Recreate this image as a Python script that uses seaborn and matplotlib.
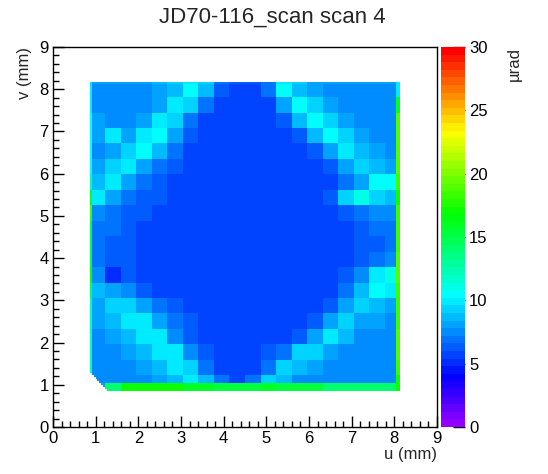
import colorsys
import numpy as np
import pandas as pd
import matplotlib
matplotlib.use("Agg")
import matplotlib.pyplot as plt
from matplotlib.colors import ListedColormap
import seaborn as sns

# tilt map (urad), 20 x 20 coarse cells, top row (v = 8.2 mm) first
tilt = [
    [7.5, 7.5, 7.5, 7.5, 7.8, 8.4, 10.2, 8.4, 6.3, 5.7, 5.7, 6.9, 10.2, 8.4, 7.8, 7.5, 7.5, 7.5, 7.5, 7.5],
    [7.5, 7.5, 7.5, 7.5, 8.1, 9.6, 9.0, 6.9, 5.7, 5.7, 5.7, 5.7, 8.1, 10.5, 9.0, 7.8, 7.5, 7.5, 7.5, 7.5],
    [7.8, 7.5, 7.5, 8.1, 9.9, 9.0, 6.6, 5.7, 5.7, 5.7, 5.7, 5.7, 6.3, 8.4, 10.5, 9.0, 7.8, 7.5, 7.5, 7.5],
    [7.8, 9.6, 7.8, 9.9, 10.5, 7.8, 6.3, 5.7, 5.7, 5.7, 5.7, 5.7, 5.7, 6.3, 8.4, 10.2, 9.0, 7.8, 7.5, 7.5],
    [7.5, 7.8, 9.3, 10.5, 8.7, 6.6, 5.7, 5.7, 5.7, 5.7, 5.7, 5.7, 5.7, 5.7, 6.3, 8.1, 9.6, 8.7, 7.8, 7.5],
    [7.8, 9.3, 9.9, 8.1, 6.6, 6.0, 5.7, 5.7, 5.7, 5.7, 5.7, 5.7, 5.7, 5.7, 5.7, 6.3, 8.1, 9.3, 8.7, 7.8],
    [8.7, 9.9, 7.8, 6.6, 6.3, 5.7, 5.7, 5.7, 5.7, 5.7, 5.7, 5.7, 5.7, 5.7, 5.7, 5.7, 6.6, 8.1, 10.2, 10.2],
    [9.6, 8.1, 6.9, 6.3, 6.0, 5.7, 5.7, 5.7, 5.7, 5.7, 5.7, 5.7, 5.7, 5.7, 5.7, 6.3, 9.0, 10.8, 9.0, 8.7],
    [7.2, 6.9, 6.3, 6.0, 5.7, 5.7, 5.7, 5.7, 5.7, 5.7, 5.7, 5.7, 5.7, 5.7, 5.7, 5.7, 6.3, 6.9, 7.2, 7.5],
    [6.9, 6.6, 6.0, 5.7, 5.7, 5.7, 5.7, 5.7, 5.7, 5.7, 5.7, 5.7, 5.7, 5.7, 5.7, 5.7, 5.7, 6.3, 6.6, 6.9],
    [6.6, 6.3, 6.0, 5.7, 5.7, 5.7, 5.7, 5.7, 5.7, 5.7, 5.7, 5.7, 5.7, 5.7, 5.7, 5.7, 5.7, 6.0, 6.3, 6.9],
    [6.9, 6.3, 6.0, 5.7, 5.7, 5.7, 5.7, 5.7, 5.7, 5.7, 5.7, 5.7, 5.7, 5.7, 5.7, 5.7, 5.7, 6.3, 6.9, 7.5],
    [7.5, 5.1, 6.3, 5.7, 5.7, 5.7, 5.7, 5.7, 5.7, 5.7, 5.7, 5.7, 5.7, 5.7, 5.7, 5.7, 6.3, 7.2, 9.6, 10.8],
    [8.7, 8.1, 7.2, 6.3, 5.7, 5.7, 5.7, 5.7, 5.7, 5.7, 5.7, 5.7, 5.7, 5.7, 5.7, 5.7, 6.6, 8.4, 10.5, 9.6],
    [8.1, 9.3, 9.3, 7.8, 6.6, 6.0, 5.7, 5.7, 5.7, 5.7, 5.7, 5.7, 5.7, 5.7, 5.7, 6.3, 8.1, 9.3, 8.4, 7.8],
    [7.8, 8.4, 9.6, 9.9, 8.1, 6.6, 6.0, 5.7, 5.7, 5.7, 5.7, 5.7, 5.7, 5.7, 6.3, 8.1, 9.3, 8.1, 7.8, 7.5],
    [7.5, 7.8, 8.4, 9.9, 9.9, 7.5, 6.3, 5.7, 5.7, 5.7, 5.7, 5.7, 5.7, 6.3, 8.1, 9.6, 8.4, 7.5, 7.5, 7.5],
    [7.5, 7.5, 7.8, 8.4, 9.9, 9.6, 7.2, 6.0, 5.7, 5.7, 5.7, 6.0, 6.6, 9.0, 9.0, 7.8, 7.5, 7.5, 7.5, 7.5],
    [7.5, 7.5, 7.5, 7.8, 8.4, 9.6, 9.3, 6.9, 5.7, 5.7, 5.7, 6.6, 9.0, 8.7, 7.8, 7.5, 7.5, 7.5, 7.5, 7.5],
    [7.5, 7.5, 7.5, 7.5, 7.8, 8.4, 9.6, 8.7, 6.6, 5.7, 6.6, 9.0, 8.4, 7.5, 7.5, 7.5, 7.5, 7.5, 7.5, 7.5],
]
# bright borders of the scan (urad), one value per coarse cell
left_edge = [10, 10, 10.5, 10.5, 10.5, 11, 12, 16, 18, 15, 15, 15, 17, 14, 12, 12, 12, 12, 12, 12]
right_edge = [10, 16, 19, 19, 19, 19, 18, 17, 18, 18, 18, 19, 19, 18, 18, 18, 19, 19, 18, 17]
top_edge = [8, 8, 8, 8, 8.5, 9, 10, 9, 7, 6, 6, 7, 10, 9, 8, 8, 8, 8, 8, 8]
bottom_strip = [8, 14, 17, 17, 17, 17, 16, 16, 15, 15, 15, 16, 15, 15, 15, 14, 14, 14, 14, 14]

# scanned area (mm)
u0, u1 = 0.86, 8.14
v0, v1 = 0.86, 8.18
rep = 8

coarse = np.array(tilt, dtype=float)
fine = np.kron(coarse, np.ones((rep, rep)))
n_v, n_u = fine.shape
fine[0, :] = np.repeat(top_edge, rep)
fine[-4:, :] = np.repeat(bottom_strip, rep)[None, :]
fine[:, :1] = np.repeat(left_edge, rep)[:, None]
fine[:, -2:] = np.repeat(right_edge, rep)[:, None]

du = (u1 - u0) / n_u
dv = (v1 - v0) / n_v
uc = u0 + du * (np.arange(n_u) + 0.5)
vc = v1 - dv * (np.arange(n_v) + 0.5)
uu, vv = np.meshgrid(uc, vc)
fine[(uu - u0) + (vv - v0) < 0.42] = np.nan  # cut corner
df = pd.DataFrame(fine)

# ROOT "pretty" palette: 50 hues violet -> red
colors = [colorsys.hls_to_rgb((280 - (i + 1) * 5.6) / 360, 0.5, 1.0) for i in range(50)]
cmap = ListedColormap(colors)

sns.set_theme(style="white")
plt.rcParams["font.family"] = ["Liberation Sans", "DejaVu Sans"]

fig = plt.figure(figsize=(5.48, 4.74), dpi=100)
ax = fig.add_axes([53 / 548, 47 / 474, 384 / 548, 380 / 474])
cax = fig.add_axes([441 / 548, 47 / 474, 24 / 548, 380 / 474])

sns.heatmap(df, ax=ax, cmap=cmap, vmin=0, vmax=30, cbar_ax=cax,
            xticklabels=False, yticklabels=False)

# map cell coordinates to mm
ax.set_xlim((0 - u0) / du, (9 - u0) / du)
ax.set_ylim((v1 - 0) / dv, (v1 - 9) / dv)
ax.set_xticks([(k - u0) / du for k in range(10)])
ax.set_xticklabels([str(k) for k in range(10)])
ax.set_xticks([(k * 0.2 - u0) / du for k in range(46)], minor=True)
ax.set_yticks([(v1 - k) / dv for k in range(10)])
ax.set_yticklabels([str(k) for k in range(10)])
ax.set_yticks([(v1 - k * 0.2) / dv for k in range(46)], minor=True)
for s in ax.spines.values():
    s.set_visible(True)
    s.set_color("black")
    s.set_linewidth(1.0)
ax.tick_params(which="both", direction="in", bottom=True, left=True,
               top=False, right=False, colors="black", labelsize=12, width=1)
ax.tick_params(which="major", length=8, pad=3)
ax.tick_params(which="minor", length=4)
ax.set_xlabel("")
ax.set_ylabel("")

cbar = ax.collections[0].colorbar
cbar.outline.set_visible(False)
cbar.set_ticks([0, 5, 10, 15, 20, 25, 30])
cax.tick_params(direction="in", length=9, width=1, colors="black", labelsize=12, pad=3)

fig.text(437 / 548, 1 - 455 / 474, "u (mm)", ha="right", va="center", fontsize=12)
fig.text(25 / 548, 1 - 47 / 474, "v (mm)", ha="center", va="top", rotation=90, fontsize=12)
fig.text(514 / 548, 1 - 47 / 474, "µrad", ha="center", va="top", rotation=90, fontsize=12)
fig.text(272 / 548, 1 - 17 / 474, "JD70-116_scan scan 4", ha="center", va="center", fontsize=16)

fig.savefig("out.png", dpi=100)
